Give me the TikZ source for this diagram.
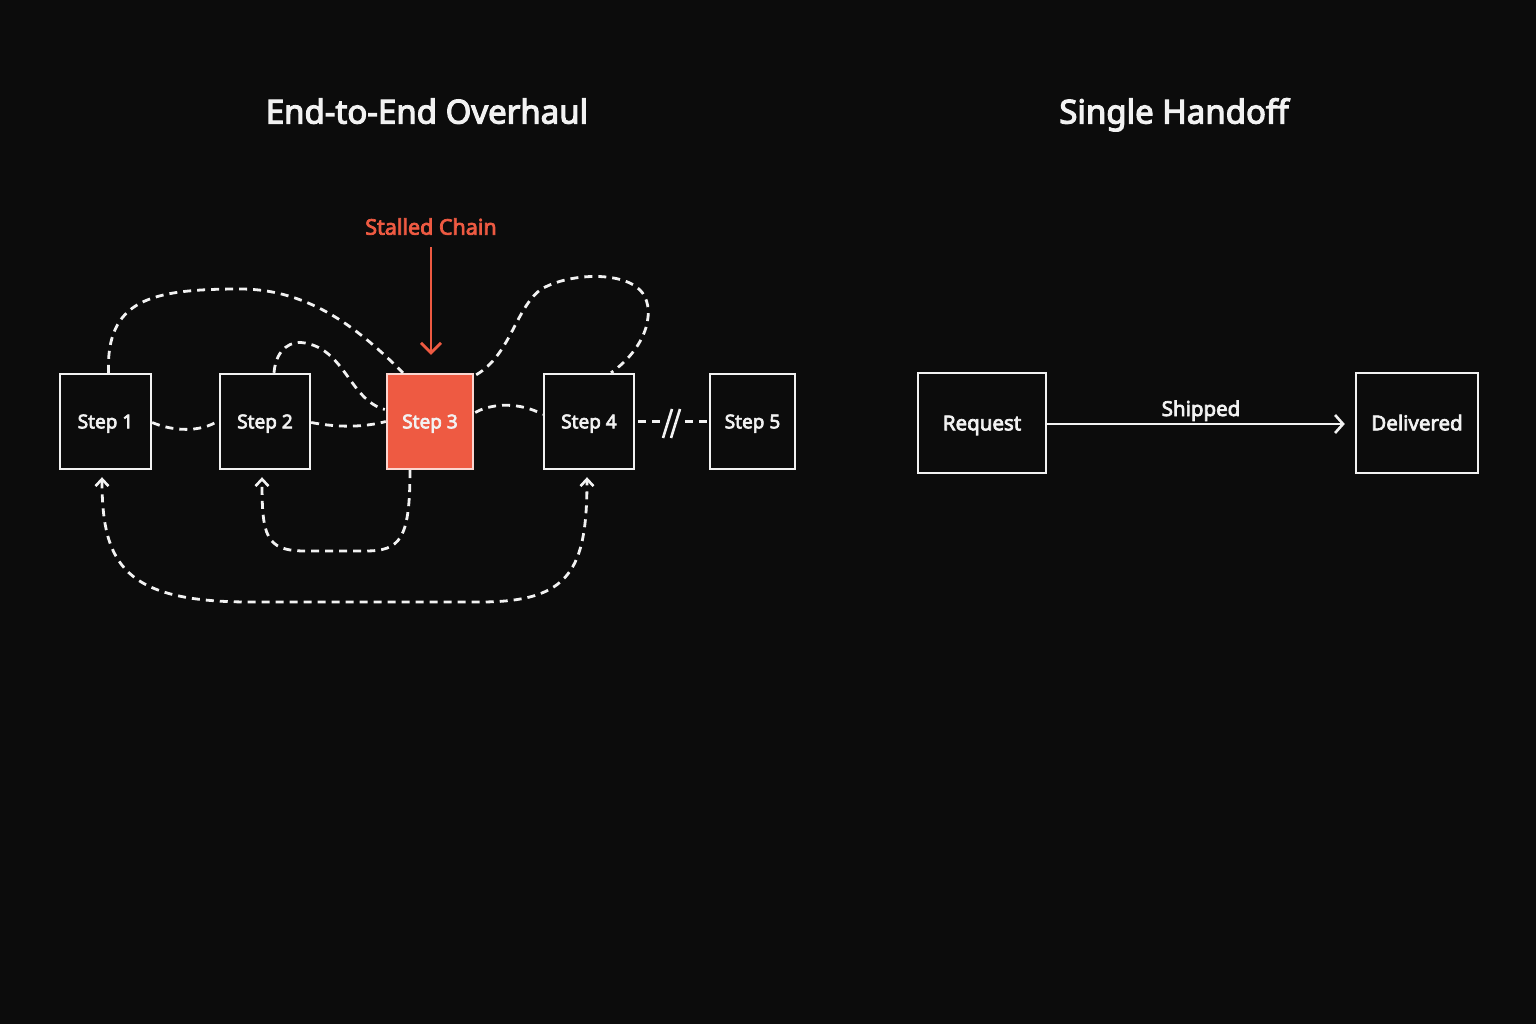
\documentclass[tikz,border=0pt]{standalone}
\usepackage{fontspec}
\setmainfont{Noto Sans}[RawFeature={embolden=3.5}]
\usetikzlibrary{arrows.meta,calc}
\definecolor{bg}{HTML}{0C0C0C}
\definecolor{fg}{HTML}{F2F2F2}
\definecolor{hot}{HTML}{EE5A42}
\tikzset{tipv/.tip={Straight Barb[length=7pt,width=13pt,line width=2.6pt]}}
\begin{document}
\begin{tikzpicture}[x=1pt,y=-1pt,
  box/.style={draw=fg,line width=2.4pt,minimum height=95pt,inner sep=0pt,
    text=fg,font=\fontsize{19}{22}\selectfont,text height=13.6pt,text depth=0pt},
  bigbox/.style={box,minimum height=100pt,font=\fontsize{20.5}{23}\selectfont,text height=14.6pt},
  title/.style={text=fg,font=\fontsize{33}{38}\selectfont,inner sep=0pt,anchor=base},
  flow/.style={draw=fg,line width=2.8pt,dash pattern=on 8pt off 6pt},
]
\fill[bg] (0,0) rectangle (1536,1024);
\useasboundingbox (0,0) rectangle (1536,1024);

\node[title] (t1) at (427,123.5) {End-to-End Overhaul};
\node[title] (t2) at (1174,123.5) {Single Handoff};

\node[box,minimum width=91pt] (s1) at (105.5,421.5) {Step 1};
\node[box,minimum width=90pt] (s2) at (265,421.5) {Step 2};
\node[box,minimum width=86pt,fill=hot,draw=hot!25!white] (s3) at (430,421.5) {Step 3};
\node[box,minimum width=90pt] (s4) at (589,421.5) {Step 4};
\node[box,minimum width=85pt] (s5) at (752.5,421.5) {Step 5};

\node[text=hot,font=\fontsize{21.5}{25}\selectfont,inner sep=0pt,text height=15.3pt,text depth=0pt] (stall) at (431,227) {Stalled Chain};
\coordinate (stalltip) at ($(s3.north)+(1,-18)$);
\draw[hot,line width=2.8pt,-{Straight Barb[length=10pt,width=20pt,line width=2.8pt]}]
  ($(stall.south)+(0,12)$) -- (stalltip);

% neighbour links
\draw[flow] ($(s1.east)+(0,1)$) .. controls (172,431) and (200,433) .. ($(s2.west)+(0,-1)$);
\draw[flow] ($(s2.east)+(0,1)$) .. controls (340,428) and (365,427) .. ($(s3.west)+(0,0)$);
\draw[flow] ($(s3.east)+(1,-9)$) .. controls (492,403) and (520,402) .. ($(s4.west)+(0,-7)$);

% broken link 4 -> 5
\coordinate (brkL) at (661,421.5);
\coordinate (brkR) at (685,421.5);
\draw[flow] ($(s4.east)+(3,0)$) -- (brkL);
\draw[flow] (brkR) -- (s5.west);
\draw[fg,line width=2.6pt] (663,438) -- (672,409) (671,438) -- (680,409);

% over-the-top loops
\draw[flow] ($(s1.north)+(3,0)$) .. controls (106,300) and (150,289) .. (240,289)
  .. controls (310,289) and (360,330) .. ($(s3.north)+(-27,0)$);
\draw[flow] ($(s2.north)+(9,0)$) .. controls (276,348) and (292,340) .. (305,343)
  .. controls (345,350) and (350,400) .. ($(s3.west)+(-1,-12)$);
\draw[flow] ($(s3.north east)+(2,2)$) .. controls (510,355) and (515,310) .. (540,290)
  .. controls (565,274) and (620,270) .. (640,290)
  .. controls (656,306) and (650,345) .. ($(s4.north)+(22,0)$);

% returns below
\draw[flow,-{tipv}] ($(s3.south)+(-20,0)$) .. controls (410,540) and (400,551) .. (365,551)
  -- (305,551) .. controls (265,551) and (262,535) .. ($(s2.south)+(-3,7)$);
\draw[flow,{tipv}-{tipv}] ($(s1.south)+(-3.5,7)$) .. controls (102,565) and (125,602) .. (250,602)
  -- (480,602) .. controls (570,602) and (587,570) .. ($(s4.south)+(-2,7)$);

% right diagram
\node[bigbox,minimum width=128pt] (req) at (982,423) {Request};
\node[bigbox,minimum width=122pt] (del) at (1417,423) {Delivered};
\draw[fg,line width=2.6pt,-{Straight Barb[length=8pt,width=18pt,line width=2.6pt]},shorten >=10pt]
  ($(req.east)+(0,1)$) -- node[midway,anchor=base,yshift=8pt,text=fg,font=\fontsize{20.5}{23}\selectfont,inner sep=0pt] (ship) {Shipped} ($(del.west)+(0,1)$);
\end{tikzpicture}
\end{document}
